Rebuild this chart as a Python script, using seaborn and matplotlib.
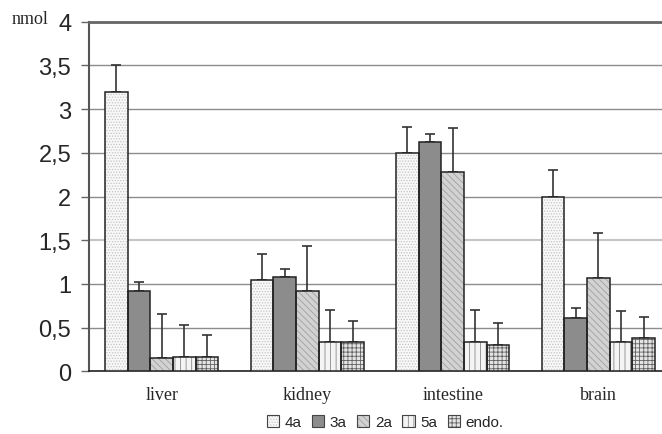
import numpy as np
import pandas as pd
import matplotlib
matplotlib.use("Agg")
import matplotlib.pyplot as plt
import seaborn as sns
from matplotlib.patches import Patch, Rectangle
from matplotlib.legend_handler import HandlerTuple
from matplotlib.ticker import FuncFormatter

organs = ["liver", "kidney", "intestine", "brain"]
compounds = ["4a", "3a", "2a", "5a", "endo."]
val_4a = [3.20, 1.04, 2.50, 2.00]
val_3a = [0.92, 1.08, 2.62, 0.61]
val_2a = [0.15, 0.92, 2.28, 1.07]
val_5a = [0.16, 0.33, 0.33, 0.33]
val_endo = [0.16, 0.33, 0.30, 0.38]
err_4a = [0.30, 0.30, 0.30, 0.30]
err_3a = [0.10, 0.09, 0.09, 0.11]
err_2a = [0.50, 0.51, 0.50, 0.51]
err_5a = [0.37, 0.37, 0.37, 0.36]
err_endo = [0.25, 0.25, 0.25, 0.24]
yticks = [0, 0.5, 1, 1.5, 2, 2.5, 3, 3.5, 4]

values = [val_4a, val_3a, val_2a, val_5a, val_endo]
errors = [err_4a, err_3a, err_2a, err_5a, err_endo]

faces = ["#f8f8f8", "#8c8c8c", "#d2d2d2", "#f4f4f4", "#e4e4e4"]
hatches = ["......", "", "\\\\\\\\\\", "|||", "++++"]
hcolors = ["#c4c4c4", "#8c8c8c", "#a0a0a0", "#8a8a8a", "#606060"]

rows = []
for c, vals in zip(compounds, values):
    for o, v in zip(organs, vals):
        rows.append({"organ": o, "compound": c, "value": v})
df = pd.DataFrame(rows)

sns.set_style("white")
plt.rcParams["hatch.linewidth"] = 0.6

fig = plt.figure(figsize=(6.62, 4.35), dpi=100)
ax = fig.add_axes([89 / 662, 62.7 / 435, 582 / 662, 349.6 / 435])

sns.barplot(data=df, x="organ", y="value", hue="compound", order=organs,
            hue_order=compounds, errorbar=None, width=0.78, gap=0,
            palette=faces, linewidth=0, ax=ax, legend=False, zorder=3)

ax.yaxis.grid(True, color="#8c8c8c", linewidth=1.0, zorder=0)
ax.set_axisbelow(True)

bar_containers = list(ax.containers)
for i, cont in enumerate(bar_containers):
    xs, tops = [], []
    for p in cont.patches:
        p.set_facecolor(faces[i])
        p.set_hatch(hatches[i])
        p.set_edgecolor(hcolors[i])
        p.set_linewidth(0)
        ax.add_patch(Rectangle(p.get_xy(), p.get_width(), p.get_height(),
                               fill=False, edgecolor="#222222", linewidth=1.1,
                               zorder=4))
        xs.append(p.get_x() + p.get_width() / 2)
        tops.append(p.get_height())
    ax.errorbar(xs, tops, yerr=[np.zeros(len(xs)), errors[i]], fmt="none",
                ecolor="#333333", elinewidth=1.2, capsize=3.3, capthick=1.2,
                zorder=2.5)

ax.set_ylim(0, 4)
ax.set_xlim(-0.5, 3.5)
ax.set_yticks(yticks)
ax.yaxis.set_major_formatter(FuncFormatter(lambda v, p: f"{v:g}".replace(".", ",")))
ax.tick_params(axis="y", which="major", left=True, length=5.8, width=1,
               color="#666666", pad=7, labelsize=17)
ax.tick_params(axis="x", bottom=False, pad=7)
for lab in ax.get_yticklabels():
    lab.set_family(["Liberation Sans", "DejaVu Sans"])
for lab in ax.get_xticklabels():
    lab.set_family(["Liberation Serif", "DejaVu Serif"])
    lab.set_fontsize(13)
ax.set_xlabel("")
ax.set_ylabel("")

gl = ax.get_ygridlines()
if len(gl) > 3:
    gl[3].set_color("#c4c4c4")
    gl[3].set_linewidth(1.5)

for s in ["left", "top", "bottom", "right"]:
    ax.spines[s].set_visible(True)
ax.spines["left"].set_color("#555555")
ax.spines["left"].set_linewidth(1.5)
ax.spines["top"].set_color("#666666")
ax.spines["top"].set_linewidth(2.0)
ax.spines["bottom"].set_color("#222222")
ax.spines["bottom"].set_linewidth(1.2)
ax.spines["right"].set_visible(False)

fig.text(12 / 662, 1 - 20 / 435, "nmol", family=["Liberation Serif", "DejaVu Serif"],
         fontsize=13, va="center", ha="left")

handles = []
for i in range(len(compounds)):
    handles.append((Patch(facecolor=faces[i], hatch=hatches[i], edgecolor=hcolors[i], linewidth=0),
                    Patch(fill=False, edgecolor="#444444", linewidth=0.8)))
fig.legend(handles, compounds, handler_map={tuple: HandlerTuple(ndivide=1, pad=0)},
           loc="center", bbox_to_anchor=(385 / 662, 1 - 423 / 435), ncol=5,
           frameon=False, handlelength=0.8, handleheight=0.8, handletextpad=0.35,
           columnspacing=0.7, prop={"family": ["Liberation Sans", "DejaVu Sans"], "size": 11})

fig.savefig("out.png", dpi=100)
